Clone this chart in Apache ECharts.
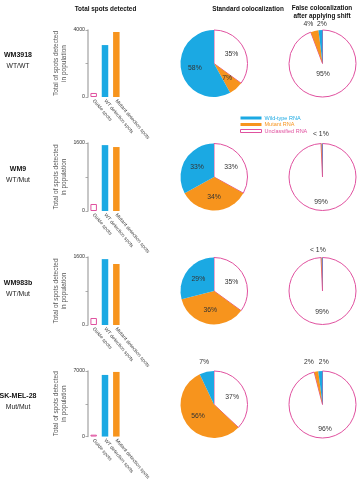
<!DOCTYPE html>
<html>
<head>
<meta charset="utf-8">
<script src="https://cdn.jsdelivr.net/npm/echarts@6/dist/echarts.min.js"></script>
<style>
html, body { margin: 0; padding: 0; background: #fff; }
#main { width: 361px; height: 482px; }
</style>
</head>
<body>
<div id="main"></div>
<script>
// data
var cellLines = ['WM3918', 'WM9', 'WM983b', 'SK-MEL-28'];
var genotypes = ['WT/WT', 'WT/Mut', 'WT/Mut', 'Mut/Mut'];
var barCategories = ['Guide spots', 'WT detection spots', 'Mutant detection spots'];
var guideSpots = [240, 165, 165, 200];
var wtSpots = [3100, 1550, 1550, 6580];
var mutantSpots = [3880, 1505, 1435, 6900];
var axisMax = [4000, 1600, 1600, 7000];

// pie slices go clockwise from 12 o'clock: unclassified, mutant, wild-type
var rnaClasses = ['Unclassified RNA', 'Mutant RNA', 'Wild-type RNA'];
var standardPct = [[35, 7, 58], [33, 34, 33], [35, 36, 29], [37, 56, 7]];
var standardLabels = [['35%', '7%', '58%'], ['33%', '34%', '33%'], ['35%', '36%', '29%'], ['37%', '56%', '7%']];
var shiftPct = [[94.3, 3.8, 1.9], [99.3, 0.35, 0.35], [99.3, 0.35, 0.35], [96, 2, 2]];
var shiftLabels = [['95%', '4%', '2%'], ['99%', '< 1%', ''], ['99%', '< 1%', ''], ['96%', '2%', '2%']];

// layout
var FONT = '"Liberation Sans", Arial, sans-serif';
var BLUE = '#1ba9e3', ORANGE = '#f7941d', PINK = '#e0519f';
var rowTop = [30, 143, 257, 371];
var rowH = [67, 68, 68, 67];
var pieR = 33.5;
var stdX = 214, shiftX = 322.5;

// label nudges for the small slices sitting above the pies
var stdOffsets = [[null, null, null], [null, null, null], [null, null, null], [null, null, [-5.5, -23]]];
var shiftOffsets = [
	[[-3, -9], [-9.5, -20], [0.5, -20]],
	[[-2, 5], [-1, -23], null],
	[[-1, 1], [-4, -21], null],
	[[0, 5], [-10, -23], [2.5, -23]]
];

var myChart = echarts.init(document.getElementById('main'));

function sliceStyle(k) {
	if (k == 0) return { color: '#fff', borderColor: PINK, borderWidth: 1 };
	if (k == 1) return { color: ORANGE, borderWidth: 0 };
	return { color: BLUE, borderWidth: 0 };
}

function pieData(pcts, labels, offsets) {
	var out = [];
	for (var k = 0; k < 3; k++) {
		var item = {
			name: rnaClasses[k],
			value: pcts[k],
			itemStyle: sliceStyle(k),
			label: { show: labels[k] != '', formatter: labels[k] }
		};
		if (offsets[k]) item.label.offset = offsets[k];
		out.push(item);
	}
	return out;
}

var grids = [], xAxes = [], yAxes = [], series = [], graphics = [];

function addText(text, x, y, size, weight, color) {
	graphics.push({
		type: 'text', x: x, y: y,
		style: {
			text: text, fill: color || '#111', align: 'center', verticalAlign: 'middle',
			font: (weight || 'normal') + ' ' + size + 'px ' + FONT
		}
	});
}

addText('Total spots detected', 105.5, 9, 6.4, 'bold');
addText('Standard colocalization', 248, 9, 6.4, 'bold');
addText('False colocalization', 322, 8, 6.4, 'bold');
addText('after applying shift', 322, 16.5, 6.4, 'bold');

for (var i = 0; i < 4; i++) {
	var cy = rowTop[i] + rowH[i] / 2;
	addText(cellLines[i], 18, cy - 8, 7, 'bold');
	addText(genotypes[i], 18, cy + 3, 6.8, 'normal', '#222');

	grids.push({ left: 88, width: 34, top: rowTop[i], height: rowH[i] });
	xAxes.push({
		type: 'category', gridIndex: i, data: barCategories,
		axisLine: { show: false }, axisTick: { show: false },
		axisLabel: { rotate: -50, fontSize: 5, color: '#444', margin: 3, interval: 0, fontFamily: FONT }
	});
	(function (mx) {
		yAxes.push({
			type: 'value', gridIndex: i, min: 0, max: mx, interval: mx / 2,
			name: 'Total of spots detected\nin population',
			nameLocation: 'middle', nameGap: 20, nameRotate: 90,
			nameTextStyle: { fontSize: 6.5, color: '#555', lineHeight: 8, fontFamily: FONT },
			axisLine: { show: true, lineStyle: { color: '#b5b5b5', width: 1.5 } },
			axisTick: { show: true, length: 2.5, lineStyle: { color: '#999', width: 0.8 } },
			axisLabel: {
				fontSize: 5.2, color: '#333', margin: 3, fontFamily: FONT,
				formatter: function (v) { return (v == 0 || v == mx) ? String(v) : ''; }
			},
			splitLine: { show: false }
		});
	})(axisMax[i]);

	series.push({
		type: 'bar', xAxisIndex: i, yAxisIndex: i, barWidth: 6.5,
		data: [
			{ value: guideSpots[i], itemStyle: { color: '#fff', borderColor: PINK, borderWidth: 1 } },
			{ value: wtSpots[i], itemStyle: { color: BLUE } },
			{ value: mutantSpots[i], itemStyle: { color: ORANGE } }
		]
	});

	var pieLabel = { position: 'inside', fontSize: 6.8, color: '#333', fontFamily: FONT };
	series.push({
		type: 'pie', center: [stdX, cy], radius: [0, pieR], startAngle: 90, clockwise: true,
		avoidLabelOverlap: false, silent: true, minAngle: 0,
		label: pieLabel, labelLine: { show: false },
		data: pieData(standardPct[i], standardLabels[i], stdOffsets[i])
	});
	series.push({
		type: 'pie', center: [shiftX, cy], radius: [0, pieR], startAngle: 90, clockwise: true,
		avoidLabelOverlap: false, silent: true, minAngle: 0,
		label: pieLabel, labelLine: { show: false },
		data: pieData(shiftPct[i], shiftLabels[i], shiftOffsets[i])
	});
}

var chartOption = {
	animation: false,
	textStyle: { fontFamily: FONT },
	grid: grids,
	xAxis: xAxes,
	yAxis: yAxes,
	legend: {
		left: 235, top: 110, orient: 'vertical',
		itemWidth: 21, itemHeight: 3, itemGap: 0.5, icon: 'rect', selectedMode: false,
		textStyle: { fontSize: 5.5, lineHeight: 6, padding: [0, 0, 0, -2] },
		data: [
			{ name: 'Wild-type RNA', itemStyle: { color: BLUE, borderWidth: 0 }, textStyle: { color: BLUE } },
			{ name: 'Mutant RNA', itemStyle: { color: ORANGE, borderWidth: 0 }, textStyle: { color: ORANGE } },
			{ name: 'Unclassified RNA', itemStyle: { color: '#fff', borderColor: PINK, borderWidth: 1 }, textStyle: { color: PINK } }
		]
	},
	graphic: graphics,
	series: series
};

myChart.setOption(chartOption);
</script>
</body>
</html>
